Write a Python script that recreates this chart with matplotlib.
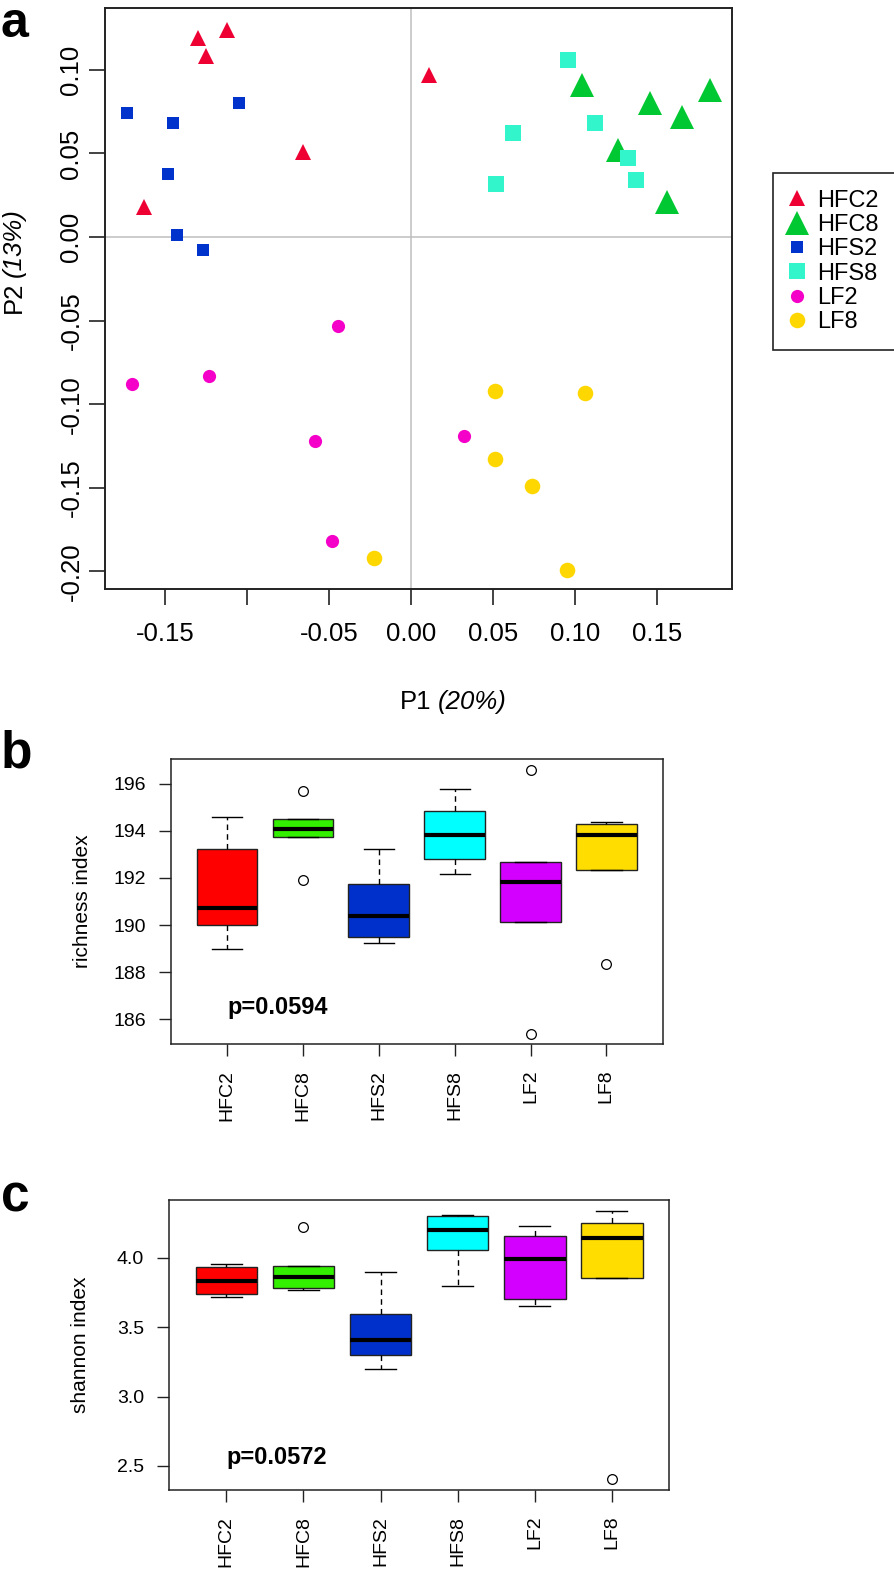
import matplotlib
matplotlib.use("Agg")
import matplotlib.pyplot as plt
from matplotlib.lines import Line2D

plt.rcParams['font.family'] = ['Liberation Sans', 'DejaVu Sans']
plt.rcParams['axes.unicode_minus'] = False

# ---------------- data ----------------
groups = ["HFC2", "HFC8", "HFS2", "HFS8", "LF2", "LF8"]

# PCoA coordinates (panel a)
hfc2_x = [-0.130, -0.125, -0.112, -0.066, -0.163, 0.011]
hfc2_y = [0.119, 0.108, 0.124, 0.051, 0.018, 0.097]
hfc8_x = [0.104, 0.146, 0.165, 0.182, 0.126, 0.156]
hfc8_y = [0.091, 0.080, 0.072, 0.088, 0.052, 0.021]
hfs2_x = [-0.173, -0.145, -0.105, -0.148, -0.143, -0.127]
hfs2_y = [0.074, 0.068, 0.080, 0.038, 0.001, -0.008]
hfs8_x = [0.096, 0.062, 0.112, 0.132, 0.137, 0.052]
hfs8_y = [0.106, 0.062, 0.068, 0.047, 0.034, 0.032]
lf2_x = [-0.0445, -0.170, -0.123, -0.0586, -0.048, 0.032]
lf2_y = [-0.053, -0.088, -0.083, -0.122, -0.182, -0.119]
lf8_x = [-0.0226, 0.051, 0.106, 0.051, 0.074, 0.095]
lf8_y = [-0.192, -0.092, -0.093, -0.133, -0.149, -0.199]

pc_xticks = [-0.15, -0.10, -0.05, 0.00, 0.05, 0.10, 0.15]
pc_xticklabels = ["-0.15", "", "-0.05", "0.00", "0.05", "0.10", "0.15"]
pc_yticks = [-0.20, -0.15, -0.10, -0.05, 0.00, 0.05, 0.10]
pc_yticklabels = ["-0.20", "-0.15", "-0.10", "-0.05", "0.00", "0.05", "0.10"]

# richness index box stats (panel b)
rich_whislo = [189.00, 193.74, 189.23, 192.18, 190.14, 192.34]
rich_q1 = [190.01, 193.74, 189.48, 192.81, 190.14, 192.34]
rich_med = [190.74, 194.10, 190.38, 193.84, 191.84, 193.81]
rich_q3 = [193.23, 194.52, 191.74, 194.86, 192.66, 194.31]
rich_whishi = [194.61, 194.52, 193.23, 195.80, 192.66, 194.38]
rich_fliers = [[], [195.72, 191.93], [], [], [196.61, 185.38], [188.33]]
rich_yticks = [186, 188, 190, 192, 194, 196]
rich_p = "p=0.0594"

# shannon index box stats (panel c)
shan_whislo = [3.717, 3.765, 3.20, 3.80, 3.65, 3.856]
shan_q1 = [3.74, 3.78, 3.30, 4.058, 3.70, 3.856]
shan_med = [3.83, 3.86, 3.41, 4.197, 3.988, 4.14]
shan_q3 = [3.93, 3.94, 3.597, 4.30, 4.154, 4.25]
shan_whishi = [3.955, 3.94, 3.90, 4.307, 4.228, 4.338]
shan_fliers = [[], [4.22], [], [], [], [2.404]]
shan_yticks = [2.5, 3.0, 3.5, 4.0]
shan_p = "p=0.0572"

# ---------------- styles ----------------
pc_colors = ["#EE0033", "#00C832", "#0033CC", "#33F5CC", "#F500C8", "#FFD700"]
pc_markers = ["^", "^", "s", "s", "o", "o"]
pc_sizes = [12, 17, 8.6, 12, 9.5, 11.2]
box_colors = ["#FF0000", "#33F000", "#0030CC", "#00FFFF", "#D400FF", "#FFDD00"]

W, H = 894, 1574
fig = plt.figure(figsize=(W / 100, H / 100), dpi=100)


def rect(l, t, r, b):
    return [l / W, 1 - b / H, (r - l) / W, (b - t) / H]


spine_col = "#222222"

# ---------------- panel a ----------------
axA = fig.add_axes(rect(105, 8, 732, 589))
axA.axhline(0, color="#BEBEBE", lw=1.1, zorder=0)
axA.axvline(0, color="#BEBEBE", lw=1.1, zorder=0)
xs = [hfc2_x, hfc8_x, hfs2_x, hfs8_x, lf2_x, lf8_x]
ys = [hfc2_y, hfc8_y, hfs2_y, hfs8_y, lf2_y, lf8_y]
handles = []
for g, x, y, c, m, s in zip(groups, xs, ys, pc_colors, pc_markers, pc_sizes):
    axA.plot(x, y, linestyle="none", marker=m, ms=s, color=c, mew=0, zorder=3)
    handles.append(Line2D([], [], linestyle="none", marker=m, ms=s, color=c, mew=0))
axA.set_xlim(-0.1866, 0.1957)
axA.set_ylim(-0.2105, 0.137)
axA.set_xticks(pc_xticks)
axA.set_xticklabels(pc_xticklabels)
axA.set_yticks(pc_yticks)
axA.set_yticklabels(pc_yticklabels, rotation=90, va="center")
axA.tick_params(axis="both", length=11.5, width=1.2, color=spine_col, labelsize=18.5)
axA.tick_params(axis="x", pad=12)
axA.tick_params(axis="y", pad=4)
for sp in axA.spines.values():
    sp.set_linewidth(1.4)
    sp.set_color(spine_col)

# axis titles: plain part + italic part
fig.text(431 / W, 1 - 702 / H, "P1", ha="right", va="center", fontsize=18.5)
fig.text(438 / W, 1 - 702 / H, "(20%)", ha="left", va="center", fontsize=18.5,
         fontstyle="italic")
fig.text(14 / W, 1 - 313 / H, "P2", ha="center", va="bottom", rotation=90, fontsize=18.5)
fig.text(14 / W, 1 - 277 / H, "(13%)", ha="center", va="bottom", rotation=90,
         fontsize=18.5, fontstyle="italic")

leg = fig.legend(handles, groups, loc="upper left", bbox_to_anchor=(773 / W, 1 - 173 / H),
                 fontsize=17, frameon=True, fancybox=False, edgecolor=spine_col,
                 framealpha=1, borderpad=0.7, handlelength=0.6, handletextpad=0.57,
                 labelspacing=0.1, borderaxespad=0)
leg.get_frame().set_linewidth(1.2)


# ---------------- box panels ----------------
def box_panel(ax, whislo, q1, med, q3, whishi, fliers, yticks, fmt, ylim, ptext, py):
    stats = []
    for i, g in enumerate(groups):
        stats.append(dict(label=g, whislo=whislo[i], q1=q1[i], med=med[i], q3=q3[i],
                          whishi=whishi[i], fliers=fliers[i]))
    bp = ax.bxp(stats, positions=range(1, 7), widths=0.8, capwidths=0.4,
                patch_artist=True, showfliers=True,
                boxprops=dict(edgecolor="#222222", linewidth=1.0),
                medianprops=dict(color="black", linewidth=3.0, solid_capstyle="butt"),
                whiskerprops=dict(color="black", linewidth=1.0, linestyle=(0, (4, 3))),
                capprops=dict(color="black", linewidth=1.0),
                flierprops=dict(marker="o", markerfacecolor="none", markeredgecolor="black",
                                markersize=7, markeredgewidth=0.9))
    for patch, c in zip(bp["boxes"], box_colors):
        patch.set_facecolor(c)
    ax.set_xlim(0.26, 6.74)
    ax.set_ylim(*ylim)
    ax.set_xticks(range(1, 7))
    ax.set_xticklabels(groups, rotation=90, ha="center", va="top")
    ax.set_yticks(yticks)
    ax.set_yticklabels([fmt.format(v) for v in yticks])
    ax.tick_params(axis="both", length=8.6, width=1.0, color=spine_col, labelsize=14)
    ax.tick_params(axis="y", pad=9.5)
    ax.tick_params(axis="x", pad=10)
    for sp in ax.spines.values():
        sp.set_linewidth(1.1)
        sp.set_color(spine_col)
    ax.text(1.0, py, ptext, ha="left", va="center", fontsize=17, fontweight="bold")


axB = fig.add_axes(rect(171, 759, 662.5, 1044))
box_panel(axB, rich_whislo, rich_q1, rich_med, rich_q3, rich_whishi, rich_fliers,
          rich_yticks, "{:d}", (184.94, 197.06), rich_p, 186.5)
fig.text(82 / W, 1 - 901.5 / H, "richness index", rotation=90, ha="center", va="center",
         fontsize=15)

axC = fig.add_axes(rect(169.3, 1200, 668.8, 1490))
box_panel(axC, shan_whislo, shan_q1, shan_med, shan_q3, shan_whishi, shan_fliers,
          shan_yticks, "{:.1f}", (2.327, 4.416), shan_p, 2.558)
fig.text(80 / W, 1 - 1345 / H, "shannon index", rotation=90, ha="center", va="center",
         fontsize=15)

# panel letters
fig.text(1 / W, 1 - 37 / H, "a", fontsize=36, fontweight="bold", va="baseline", ha="left")
fig.text(1 / W, 1 - 768 / H, "b", fontsize=37, fontweight="bold", va="baseline", ha="left")
fig.text(1 / W, 1 - 1212 / H, "c", fontsize=37, fontweight="bold", va="baseline", ha="left")

fig.savefig("out.png", dpi=100)
